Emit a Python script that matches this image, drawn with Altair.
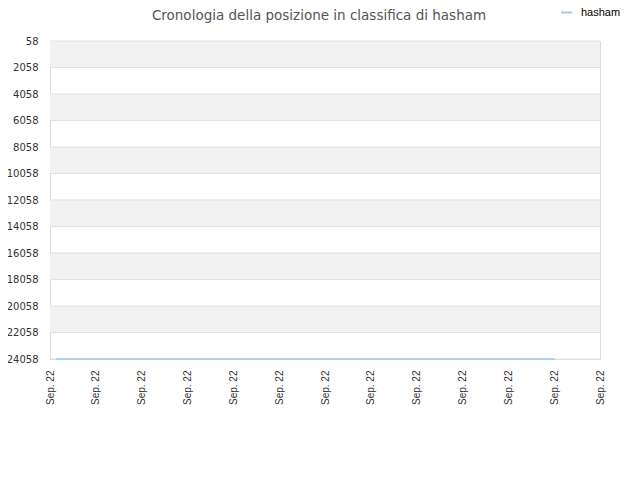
import altair as alt
import pandas as pd

# --- data ---
title_text = "Cronologia della posizione in classifica di hasham"
series_name = "hasham"
x_ticks = list(range(13))
x_label = "Sep. 22"
y_ticks = [58, 2058, 4058, 6058, 8058, 10058, 12058, 14058, 16058, 18058, 20058, 22058, 24058]
band_starts = [58, 4058, 8058, 12058, 16058, 20058]
line_x = [0.13, 11.02]
line_rank = [24058, 24058]

bands = pd.DataFrame({"y": band_starts, "y2": [b + 2000 for b in band_starts]})
grid_df = pd.DataFrame({"y": y_ticks})
line_df = pd.DataFrame({"x": line_x, "rank": line_rank, "s": [series_name] * len(line_x)})

xscale = alt.Scale(domain=[0, 12], nice=False, zero=False)
yscale = alt.Scale(domain=[58, 24058], reverse=True, nice=False, zero=False)

y_axis = alt.Axis(values=y_ticks, title=None, domain=False, ticks=False, format="d",
                  labelFont="DejaVu Sans", labelFontSize=10, labelColor="#333",
                  labelPadding=6, offset=6, grid=False, labelOverlap=False)
x_axis = alt.Axis(values=x_ticks, labelExpr=f"'{x_label}'", title=None, labelAngle=270,
                  labelFont="Liberation Sans", labelFontSize=10, labelColor="#333",
                  domain=False, ticks=False, grid=False, labelPadding=11, labelOverlap=False)

band_layer = alt.Chart(bands).mark_rect(color="#f2f2f2").encode(
    x=alt.value(0), x2=alt.value(550),
    y=alt.Y("y:Q", scale=yscale, axis=y_axis),
    y2="y2:Q",
)

grid_layer = alt.Chart(grid_df).mark_rule(color="#e2e2e2", strokeWidth=1).encode(
    x=alt.value(0), x2=alt.value(550),
    y=alt.Y("y:Q", scale=yscale, axis=y_axis),
)

line_layer = alt.Chart(line_df).mark_line(strokeWidth=1.5, clip=False).encode(
    x=alt.X("x:Q", scale=xscale, axis=x_axis),
    y=alt.Y("rank:Q", scale=yscale, axis=y_axis),
    color=alt.Color("s:N", scale=alt.Scale(domain=[series_name], range=["#9ec9f2"]),
                    legend=alt.Legend(title=None, orient="none", legendX=510, legendY=-35,
                                      symbolType="stroke", symbolStrokeWidth=2, symbolSize=120,
                                      labelOffset=8,
                                      labelFont="Liberation Sans", labelFontSize=11,
                                      labelColor="#000")),
)

chart = alt.layer(band_layer, grid_layer, line_layer).properties(
    width=550, height=318,
    padding={"left": 42, "top": 33, "right": 32, "bottom": 113},
    autosize=alt.AutoSizeParams(type="none"),
    title=alt.TitleParams(title_text, font="DejaVu Sans", fontSize=13.5, fontWeight="normal",
                          color="#555", anchor="middle", offset=0, dy=16, dx=-6),
).configure_view(stroke="#dcdcdc", strokeWidth=1)

chart.save("out.html", embed_options={"renderer": "svg", "actions": False})
